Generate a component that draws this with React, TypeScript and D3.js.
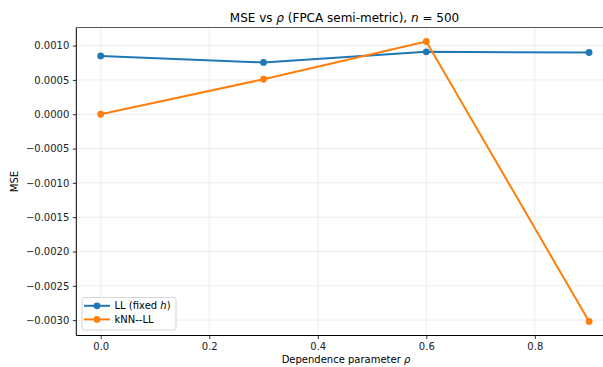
import { useEffect, useRef } from 'react';
import * as d3 from 'd3';

const rhoValues = [0.0, 0.3, 0.6, 0.9];
const llValues = [0.00085, 0.000755, 0.00091, 0.0009];
const knnValues = [0.0, 0.00051, 0.00106, -0.00302];
const xTicks = [0.0, 0.2, 0.4, 0.6, 0.8];
const yTicks = [0.001, 0.0005, 0.0, -0.0005, -0.001, -0.0015, -0.002, -0.0025, -0.003];

const seriesList = [
  { name: 'LL', values: llValues, color: '#1f77b4' },
  { name: 'kNN--LL', values: knnValues, color: '#ff7f0e' },
];

const FONT = 'DejaVu Sans, sans-serif';

const App = () => {
  const svgRef = useRef<SVGSVGElement>(null);

  useEffect(() => {
    const svg = d3.select(svgRef.current);
    svg.selectAll('*').remove();

    const width = 603;
    const height = 367;
    const margin = { top: 27.5, right: -10.5, bottom: 31.5, left: 76.3 };
    const innerW = width - margin.left - margin.right;
    const innerH = height - margin.top - margin.bottom;

    const g = svg
      .attr('width', width)
      .attr('height', height)
      .append('g')
      .attr('transform', `translate(${margin.left},${margin.top})`);

    // matplotlib-style 5% margins
    const xMin = d3.min(rhoValues) as number;
    const xMax = d3.max(rhoValues) as number;
    const xPad = (xMax - xMin) * 0.05;
    const x = d3.scaleLinear().domain([xMin - xPad, xMax + xPad]).range([0, innerW]);

    const allY = [...llValues, ...knnValues];
    const yMin = d3.min(allY) as number;
    const yMax = d3.max(allY) as number;
    const yPad = (yMax - yMin) * 0.05;
    const y = d3.scaleLinear().domain([yMin - yPad, yMax + yPad]).range([innerH, 0]);

    // Grid
    g.append('g')
      .selectAll('line')
      .data(xTicks)
      .enter().append('line')
      .attr('x1', d => x(d)).attr('x2', d => x(d))
      .attr('y1', 0).attr('y2', innerH)
      .attr('stroke', '#b0b0b0').attr('stroke-opacity', 0.3).attr('stroke-width', 0.8);

    g.append('g')
      .selectAll('line')
      .data(yTicks)
      .enter().append('line')
      .attr('x1', 0).attr('x2', innerW)
      .attr('y1', d => y(d)).attr('y2', d => y(d))
      .attr('stroke', '#b0b0b0').attr('stroke-opacity', 0.3).attr('stroke-width', 0.8);

    // Axes
    const fmtY = (d: number) => d3.format('.4f')(d).replace('-', '\u2212');
    const xAxis = g.append('g')
      .attr('transform', `translate(0,${innerH})`)
      .call(d3.axisBottom(x).tickValues(xTicks).tickFormat(d3.format('.1f')).tickSize(3.5).tickPadding(3.5));
    const yAxis = g.append('g')
      .call(d3.axisLeft(y).tickValues(yTicks).tickFormat(d => fmtY(d as number)).tickSize(3.5).tickPadding(3.5));

    [xAxis, yAxis].forEach(ax => {
      ax.select('.domain').remove();
      ax.selectAll('line').attr('stroke', '#000').attr('stroke-width', 0.8);
      ax.selectAll('text')
        .style('font-family', FONT)
        .style('font-size', '10px')
        .attr('fill', '#222');
    });

    // Spines
    g.append('line').attr('x1', 0).attr('x2', 0).attr('y1', 0).attr('y2', innerH)
      .attr('stroke', '#000').attr('stroke-width', 1);
    g.append('line').attr('x1', 0).attr('x2', innerW).attr('y1', innerH).attr('y2', innerH)
      .attr('stroke', '#000').attr('stroke-width', 1);
    g.append('line').attr('x1', 0).attr('x2', innerW).attr('y1', 0).attr('y2', 0)
      .attr('stroke', '#555').attr('stroke-width', 1.2);

    // Lines + markers
    seriesList.forEach(s => {
      const pts = rhoValues.map((r, i) => [r, s.values[i]] as [number, number]);
      const line = d3.line<[number, number]>().x(d => x(d[0])).y(d => y(d[1]));
      g.append('path')
        .datum(pts)
        .attr('d', line)
        .attr('fill', 'none')
        .attr('stroke', s.color)
        .attr('stroke-width', 2)
        .attr('stroke-linejoin', 'round');
      g.selectAll(null)
        .data(pts)
        .enter().append('circle')
        .attr('cx', d => x(d[0]))
        .attr('cy', d => y(d[1]))
        .attr('r', 3.4)
        .attr('fill', s.color);
    });

    // Title
    const title = svg.append('text')
      .attr('x', 344.5)
      .attr('y', 22)
      .attr('text-anchor', 'middle')
      .style('font-family', FONT)
      .style('font-size', '12px')
      .attr('fill', '#000');
    title.append('tspan').text('MSE vs ');
    title.append('tspan').style('font-style', 'italic').text('\u03c1');
    title.append('tspan').text(' (FPCA semi-metric), ');
    title.append('tspan').style('font-style', 'italic').text('n');
    title.append('tspan').text(' = 500');

    // Axis labels
    const xl = svg.append('text')
      .attr('x', 346)
      .attr('y', 363)
      .attr('text-anchor', 'middle')
      .style('font-family', FONT)
      .style('font-size', '10px')
      .attr('fill', '#000');
    xl.append('tspan').text('Dependence parameter ');
    xl.append('tspan').style('font-style', 'italic').text('\u03c1');

    svg.append('text')
      .attr('transform', `translate(18,${margin.top + innerH / 2}) rotate(-90)`)
      .attr('text-anchor', 'middle')
      .style('font-family', FONT)
      .style('font-size', '10px')
      .attr('fill', '#000')
      .text('MSE');

    // Legend
    const legend = svg.append('g').attr('transform', 'translate(82,297.5)');
    legend.append('rect')
      .attr('width', 94).attr('height', 32.5)
      .attr('rx', 2)
      .attr('fill', '#fff').attr('fill-opacity', 0.8)
      .attr('stroke', '#ccc').attr('stroke-width', 0.8);
    const labels = [
      ['LL (fixed ', 'h', ')'],
      ['kNN--LL', '', ''],
    ];
    seriesList.forEach((s, i) => {
      const yy = 8.3 + i * 13.6;
      legend.append('line')
        .attr('x1', 2).attr('x2', 28).attr('y1', yy).attr('y2', yy)
        .attr('stroke', s.color).attr('stroke-width', 2);
      legend.append('circle').attr('cx', 15).attr('cy', yy).attr('r', 3.4).attr('fill', s.color);
      const t = legend.append('text')
        .attr('x', 32.5).attr('y', yy + 3.5)
        .style('font-family', FONT)
        .style('font-size', '10px')
        .attr('fill', '#000');
      t.append('tspan').text(labels[i][0]);
      if (labels[i][1]) t.append('tspan').style('font-style', 'italic').text(labels[i][1]);
      if (labels[i][2]) t.append('tspan').text(labels[i][2]);
    });
  }, []);

  return (
    <div>
      <svg ref={svgRef} style={{ position: 'absolute', left: 0, top: 0 }}></svg>
    </div>
  );
};

export default App;
